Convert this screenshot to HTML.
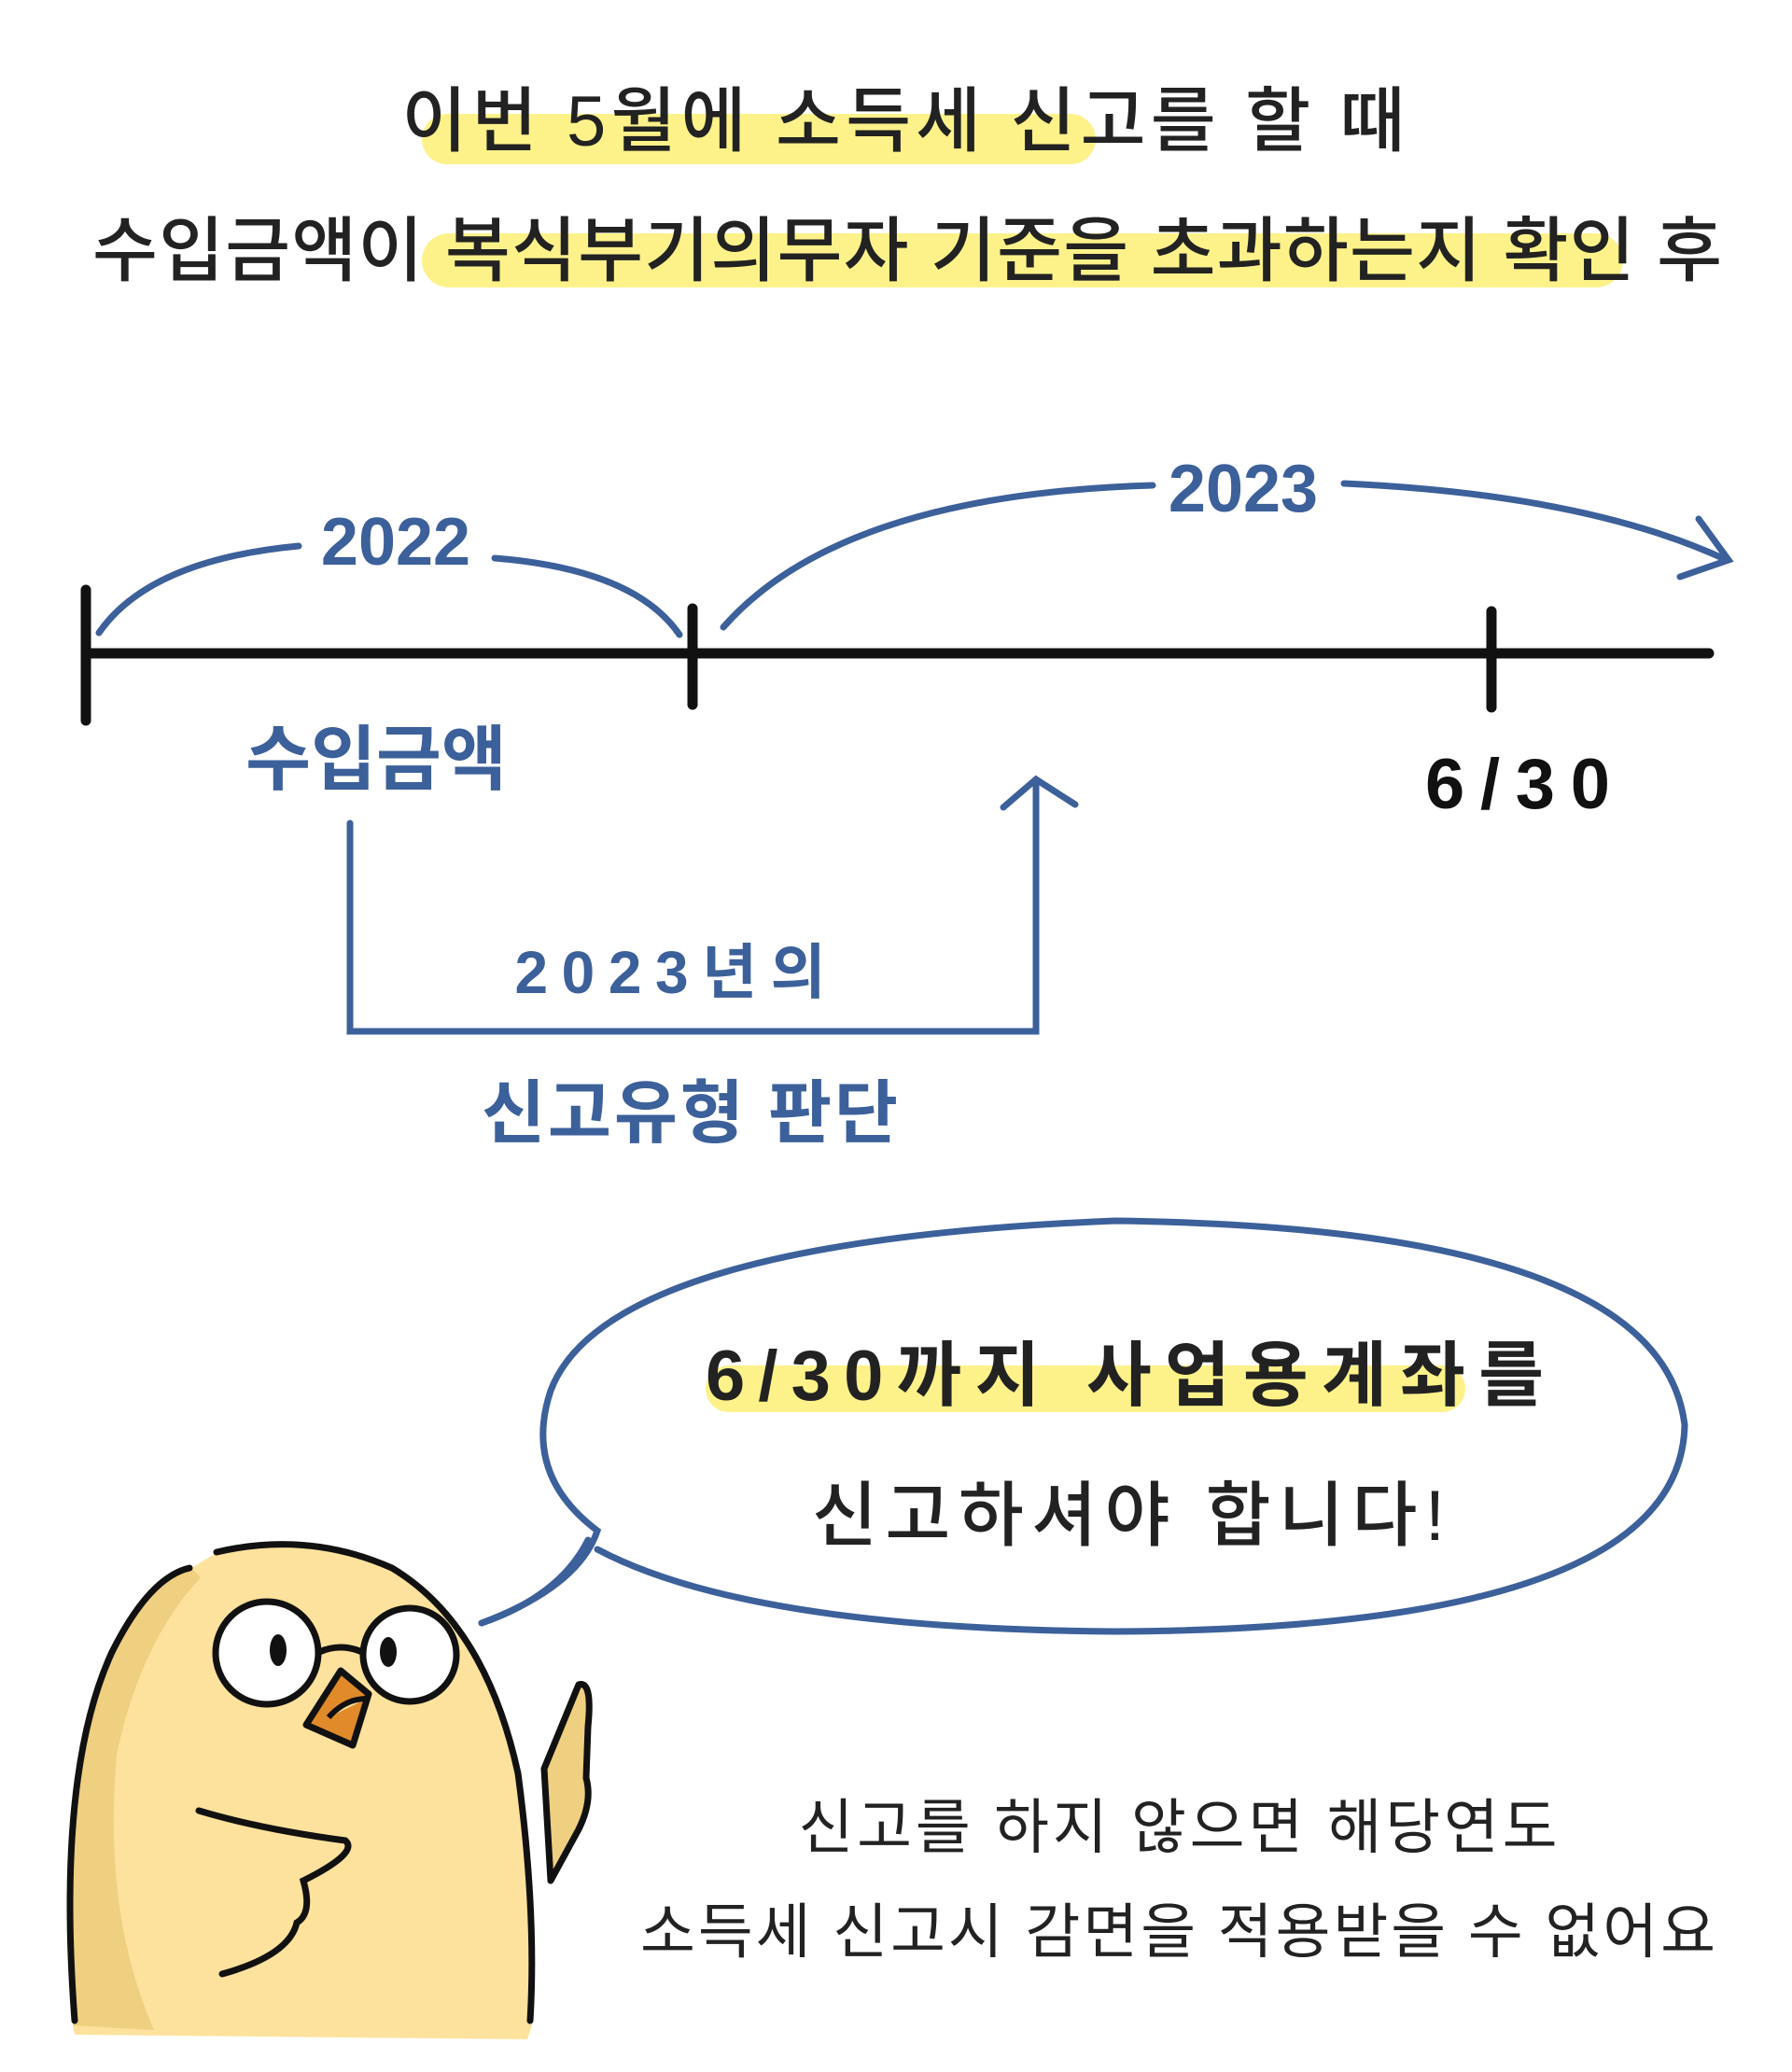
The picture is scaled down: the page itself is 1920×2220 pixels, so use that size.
<!DOCTYPE html>
<html><head><meta charset="utf-8"><style>
html,body{margin:0;padding:0;background:#fff;}
svg{display:block;}
text{font-family:"Liberation Sans","Noto Sans CJK KR","NanumGothic",sans-serif;}
</style></head><body>
<svg width="1920" height="2220" viewBox="0 0 1920 2220" xmlns="http://www.w3.org/2000/svg">
<!-- highlights -->
<rect x="452" y="122" width="722" height="54" rx="27" fill="#fdf28a"/>
<rect x="452" y="250" width="1287" height="58" rx="29" fill="#fdf28a"/>
<text x="968" y="156" font-size="76" text-anchor="middle" fill="#222" font-weight="500" textLength="1075" lengthAdjust="spacing">이번 5월에 소득세 신고를 할 때</text>
<text x="972" y="295" font-size="76" text-anchor="middle" fill="#222" font-weight="500" textLength="1746" lengthAdjust="spacing">수입금액이 복식부기의무자 기준을 초과하는지 확인 후</text>

<!-- timeline -->
<g stroke="#111" stroke-width="11" stroke-linecap="round" fill="none">
<line x1="92" y1="700" x2="1831" y2="700"/>
<line x1="92" y1="632" x2="92" y2="772"/>
<line x1="742" y1="652" x2="742" y2="755"/>
<line x1="1598" y1="655" x2="1598" y2="758"/>
</g>
<g stroke="#3c609a" stroke-width="7" stroke-linecap="round" fill="none">
<path d="M106 678 Q160 600 320 585"/>
<path d="M530 598 Q680 610 728 680"/>
<path d="M775 672 Q900 530 1235 520"/>
<path d="M1440 518 Q1700 530 1850 600"/>
<path d="M1820 556 L1852 600 L1800 618"/>
<path d="M375 882 L375 1105 L1110 1105 L1110 838"/>
<path d="M1075 865 L1110 835 L1152 862"/>
</g>
<g fill="#3c609a" font-weight="bold">
<text x="424" y="605" font-size="72" text-anchor="middle">2022</text>
<text x="1332" y="548" font-size="72" text-anchor="middle">2023</text>
<text x="403" y="840" font-size="76" text-anchor="middle">수입금액</text>
<text x="718" y="1064" font-size="64" text-anchor="middle" textLength="333" lengthAdjust="spacing">2023년의</text>
<text x="739" y="1218" font-size="74" text-anchor="middle" textLength="446" lengthAdjust="spacing">신고유형 판단</text>
</g>
<text x="1626" y="866" font-size="76" text-anchor="middle" fill="#111" font-weight="bold" textLength="198" lengthAdjust="spacing">6/30</text>

<!-- bubble -->
<path d="M516 1739 Q620 1700 640 1640 Q560 1580 590 1490 Q650 1330 1195 1308 Q1780 1315 1805 1527 Q1800 1745 1195 1748 Q800 1745 640 1660" fill="none" stroke="#3c609a" stroke-width="7" stroke-linecap="round"/>
<path d="M516 1739 Q600 1710 630 1650" fill="none" stroke="#3c609a" stroke-width="7" stroke-linecap="round"/>
<rect x="756" y="1463" width="814" height="50" rx="25" fill="#fdf28a"/>
<text x="1205" y="1500" font-size="76" text-anchor="middle" fill="#222" font-weight="bold" textLength="898" lengthAdjust="spacing">6/30까지 사업용계좌를</text>
<text x="1209" y="1650" font-size="76" text-anchor="middle" fill="#222" font-weight="500" textLength="678" lengthAdjust="spacing">신고하셔야 합니다!</text>

<text x="1262" y="1980" font-size="64" text-anchor="middle" fill="#222" textLength="813" lengthAdjust="spacing">신고를 하지 않으면 해당연도</text>
<text x="1262" y="2092" font-size="64" text-anchor="middle" fill="#222" textLength="1152" lengthAdjust="spacing">소득세 신고시  감면을 적용받을 수 없어요</text>

<!-- chick -->
<path d="M583 1895 L620 1805 Q635 1800 630 1850 L628 1905 Q635 1930 620 1960 L590 2015 Z" fill="#efcf80" stroke="#111" stroke-width="7" stroke-linejoin="round"/>
<path d="M78 2170 Q60 1900 120 1770 Q160 1680 205 1680 L230 1665 Q330 1640 420 1680 Q520 1740 555 1900 Q575 2050 570 2170 L565 2185 L80 2180 Z" fill="#fce29c"/>
<path d="M78 2170 Q60 1900 120 1770 Q160 1680 205 1680 L215 1690 Q150 1760 125 1880 Q110 2050 165 2175 Z" fill="#efcf80"/>
<g fill="none" stroke="#111" stroke-width="7" stroke-linecap="round">
<path d="M80 2165 Q60 1900 120 1770 Q160 1690 203 1680"/>
<path d="M232 1663 Q330 1640 420 1680 Q520 1740 555 1900 Q575 2050 568 2165"/>
<path d="M213 1940 Q280 1960 370 1972 Q385 1985 325 2015 Q335 2050 318 2060 Q310 2095 238 2115"/>
</g>
<circle cx="286" cy="1771" r="55" fill="#fff" stroke="#111" stroke-width="7"/>
<circle cx="439" cy="1773" r="50" fill="#fff" stroke="#111" stroke-width="7"/>
<path d="M342 1770 Q365 1760 388 1770" fill="none" stroke="#111" stroke-width="7"/>
<ellipse cx="298" cy="1768" rx="9" ry="17" fill="#111"/>
<ellipse cx="416" cy="1770" rx="9" ry="16" fill="#111"/>
<path d="M365 1790 L395 1815 L378 1870 L328 1848 Z" fill="#e08a2a" stroke="#111" stroke-width="7" stroke-linejoin="round"/>
<path d="M352 1840 Q370 1820 393 1820" fill="#fce29c" stroke="#111" stroke-width="6"/>
</svg>
</body></html>
